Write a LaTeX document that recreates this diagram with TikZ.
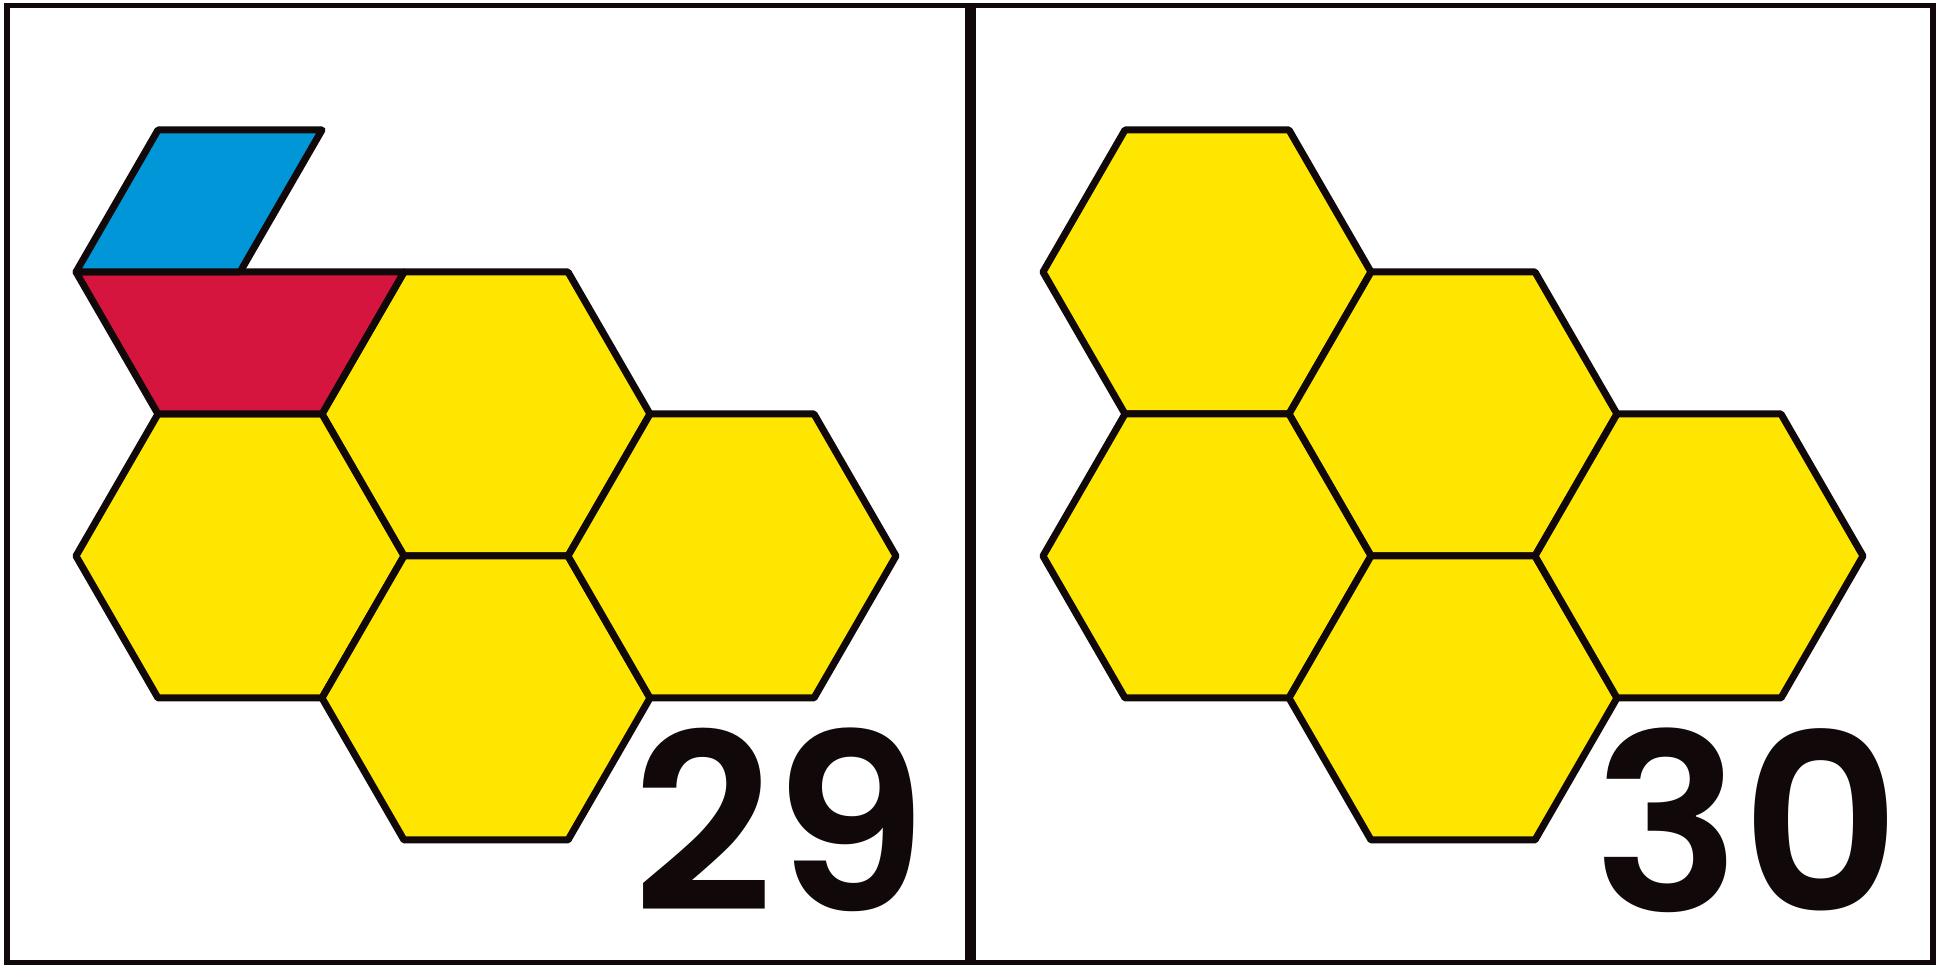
\documentclass[tikz,border=0pt]{standalone}
\usepackage{fontspec}
\newfontfamily\numfont{Poppins SemiBold}
\definecolor{ink}{RGB}{17,9,9}
\definecolor{hexyellow}{RGB}{255,230,0}
\definecolor{tileblue}{RGB}{0,150,215}
\definecolor{tilered}{RGB}{214,21,62}
\tikzset{
  tileline/.style={draw=ink, line width=0.07cm, line join=round},
  hexpic/.pic={\filldraw[tileline, fill=hexyellow] (-164,0) -- (-82,-142) -- (82,-142) -- (164,0) -- (82,142) -- (-82,142) -- cycle;},
  numlabel/.style={inner sep=0pt, anchor=base, text=ink, font=\numfont\fontsize{70}{70}\selectfont}
}
\begin{document}
\begin{tikzpicture}[x=0.01cm,y=-0.01cm]
\useasboundingbox (0,0) rectangle (1942,965);
% frame
\draw[ink, line width=0.055cm] (7,5.5) rectangle (1933,963);
\draw[ink, line width=0.11cm] (970,5.5) -- (970,963);
% left panel (x0 = 76)
\pic at (486,414) {hexpic};
\pic at (240,556) {hexpic};
\pic at (486,698) {hexpic};
\pic at (732,556) {hexpic};
\filldraw[tileline, fill=tilered] (76,272) -- (404,272) -- (322,414) -- (158,414) -- cycle;
\filldraw[tileline, fill=tileblue] (158,130) -- (322,130) -- (240,272) -- (76,272) -- cycle;
\node[numlabel] (n29) at (780,912) {29};
% right panel (x0 = 1043)
\pic at (1207,272) {hexpic};
\pic at (1453,414) {hexpic};
\pic at (1207,556) {hexpic};
\pic at (1453,698) {hexpic};
\pic at (1699,556) {hexpic};
\node[numlabel] (n30) at (1747,912) {30};
\end{tikzpicture}
\end{document}
